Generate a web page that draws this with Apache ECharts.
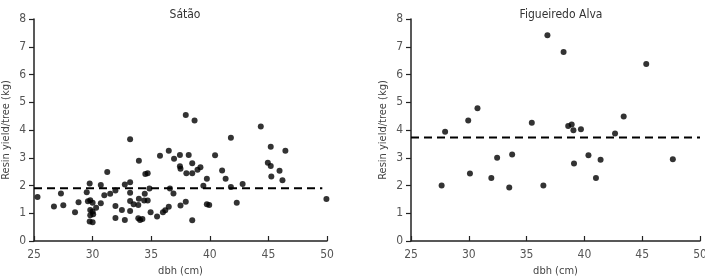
<!DOCTYPE html>
<html>
<head>
<meta charset="utf-8">
<script src="https://cdn.jsdelivr.net/npm/echarts@6/dist/echarts.min.js"></script>
<style>
  html, body { margin: 0; padding: 0; background: #fff; }
  #chart { width: 705px; height: 277px; }
</style>
</head>
<body>
<div id="chart"></div>
<script>
// dbh (cm) vs resin yield per tree (kg)
const titles = ['Sátão', 'Figueiredo Alva']
const xTicks = [25, 30, 35, 40, 45, 50]

const sataoPoints = [
  [25.3, 1.59], [26.7, 1.24], [27.3, 1.71], [27.5, 1.29], [28.5, 1.04], [28.8, 1.40],
  [29.5, 1.76], [29.75, 2.07], [29.6, 1.43], [29.8, 1.47], [30.0, 1.38], [29.8, 1.12],
  [30.0, 1.06], [29.8, 0.93], [30.05, 0.96], [29.75, 0.70], [30.0, 0.68], [30.3, 1.20],
  [30.7, 1.36], [30.7, 2.02], [31.0, 1.65], [31.25, 2.49], [31.5, 1.70], [31.95, 1.82],
  [31.95, 1.26], [31.95, 0.83], [32.5, 1.12], [32.75, 2.04], [32.75, 0.76], [33.2, 2.12],
  [33.2, 3.67], [33.2, 1.74], [33.2, 1.44], [33.2, 1.08], [33.5, 1.32], [33.95, 2.89],
  [33.95, 1.52], [33.9, 1.30], [33.9, 0.82], [34.05, 0.76], [34.25, 0.79], [34.5, 2.41],
  [34.7, 2.44], [34.4, 1.46], [34.7, 1.46], [34.45, 1.70], [34.85, 1.89], [34.95, 1.04],
  [35.5, 0.88], [35.75, 3.07], [36.0, 1.04], [36.2, 1.11], [36.5, 1.23], [36.5, 3.25],
  [36.6, 1.89], [36.9, 1.71], [36.95, 2.96], [37.45, 3.10], [37.45, 2.69], [37.5, 2.60],
  [37.5, 1.28], [37.95, 1.41], [38.0, 2.44], [38.2, 3.10], [38.5, 2.80], [38.5, 0.75],
  [37.95, 4.54], [38.7, 4.34], [38.5, 2.44], [38.95, 2.57], [39.2, 2.66], [39.45, 1.99],
  [39.75, 2.24], [39.75, 1.32], [39.95, 1.30], [40.45, 3.09], [41.05, 2.54], [41.35, 2.24],
  [41.8, 3.72], [41.8, 1.95], [42.3, 1.38], [42.8, 2.05], [44.35, 4.13], [44.95, 2.82],
  [45.2, 2.70], [45.2, 3.40], [45.25, 2.32], [45.95, 2.53], [46.2, 2.19], [46.45, 3.25],
  [49.95, 1.51]
]

const figueiredoPoints = [
  [27.65, 2.00], [27.95, 3.94], [29.95, 4.34], [30.1, 2.43], [30.75, 4.78], [31.95, 2.27],
  [32.45, 3.00], [33.5, 1.93], [33.75, 3.12], [35.45, 4.26], [36.45, 2.00], [36.8, 7.41],
  [38.2, 6.81], [38.6, 4.14], [38.9, 4.20], [39.05, 3.99], [39.1, 2.79], [39.7, 4.03],
  [40.35, 3.09], [41.0, 2.27], [41.4, 2.93], [42.65, 3.87], [43.4, 4.49], [45.35, 6.38],
  [47.65, 2.95]
]

// mean lines [start x, end x, y]
const sataoMean = [25, 49.6, 1.9]
const figueiredoMean = [25, 50, 3.73]

const font = "'Liberation Sans Narrow', 'DejaVu Sans Condensed', 'Liberation Sans', sans-serif"

const chart = echarts.init(document.getElementById('chart'), null, { renderer: 'canvas' })

function xAxis (idx) {
  return {
    type: 'value', gridIndex: idx, min: 25, max: 50, interval: 5,
    name: 'dbh (cm)', nameLocation: 'middle', nameGap: 23,
    nameTextStyle: { color: '#444', fontSize: 11, fontFamily: font },
    axisLine: { lineStyle: { color: '#222', width: 1.5 } },
    axisTick: { inside: true, length: 5, lineStyle: { color: '#222', width: 1.2 } },
    axisLabel: { color: '#555', fontSize: 12, fontFamily: font, margin: 8 },
    splitLine: { show: false }
  }
}

function yAxis (idx) {
  return {
    type: 'value', gridIndex: idx, min: 0, max: 8, interval: 1,
    name: 'Resin yield/tree (kg)', nameLocation: 'middle', nameGap: 22,
    nameTextStyle: { color: '#444', fontSize: 11, fontFamily: font },
    axisLine: { show: true, lineStyle: { color: '#222', width: 1.5 } },
    axisTick: { show: true, length: 5, lineStyle: { color: '#222', width: 1.2 } },
    axisLabel: { color: '#555', fontSize: 12, fontFamily: font, margin: 8 },
    splitLine: { show: false }
  }
}

function scatter (idx, pts) {
  return {
    type: 'scatter', xAxisIndex: idx, yAxisIndex: idx, data: pts,
    symbol: 'circle', symbolSize: 6,
    itemStyle: { color: '#000' }, silent: true
  }
}

function meanLine (idx, m) {
  return {
    type: 'line', xAxisIndex: idx, yAxisIndex: idx,
    data: [[m[0], m[2]], [m[1], m[2]]],
    symbol: 'none', silent: true,
    lineStyle: { color: '#000', width: 2, type: [8, 5] }
  }
}

chart.setOption({
  animation: false,
  title: [
    { text: titles[0], left: 180, top: 4, textAlign: 'center',
      textStyle: { color: '#333', fontSize: 12, fontWeight: 'normal', fontFamily: font } },
    { text: titles[1], left: 556, top: 4, textAlign: 'center',
      textStyle: { color: '#333', fontSize: 12, fontWeight: 'normal', fontFamily: font } }
  ],
  grid: [
    { left: 34, right: 378, top: 19, bottom: 36, outerBoundsMode: 'none' },
    { left: 411, right: 5, top: 19, bottom: 36, outerBoundsMode: 'none' }
  ],
  xAxis: [xAxis(0), xAxis(1)],
  yAxis: [yAxis(0), yAxis(1)],
  series: [
    scatter(0, sataoPoints),
    meanLine(0, sataoMean),
    scatter(1, figueiredoPoints),
    meanLine(1, figueiredoMean)
  ]
})
</script>
</body>
</html>
